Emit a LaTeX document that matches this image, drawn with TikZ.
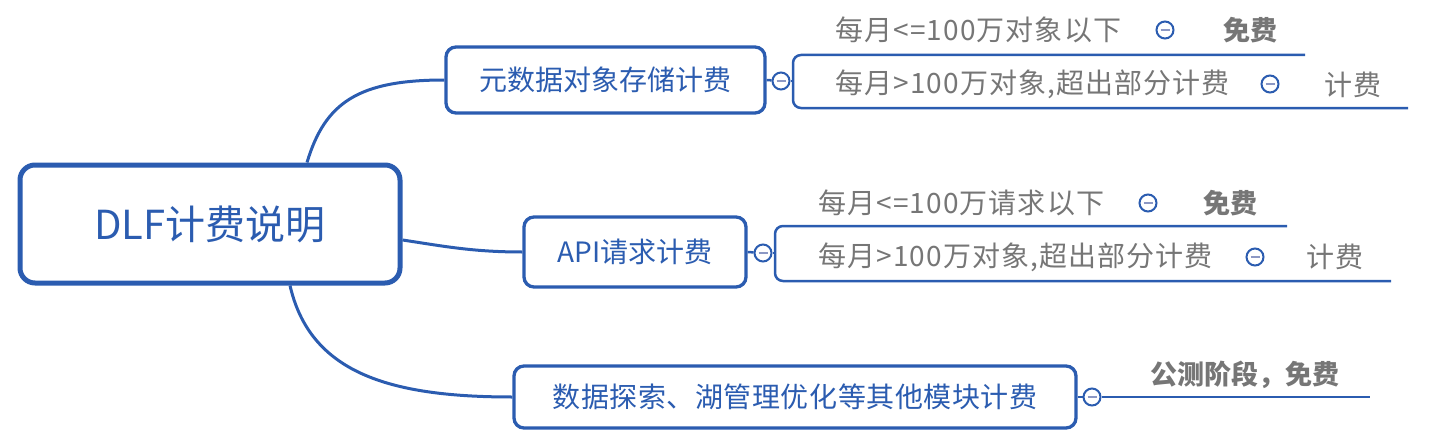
\documentclass[tikz,border=0pt]{standalone}
\usepackage{fontspec}
\setmainfont{Noto Sans CJK SC}
\definecolor{mblue}{RGB}{43,92,176}
\definecolor{tgray}{RGB}{118,118,118}
\definecolor{mgray}{RGB}{140,152,196}
\begin{document}
\begin{tikzpicture}[x=1pt,y=-1pt,
  rootbox/.style={draw=mblue, line width=5pt, rounded corners=15pt, fill=white, text=mblue,
    font=\fontsize{40}{48}\selectfont, inner sep=0pt, minimum width=380pt, minimum height=118pt},
  box/.style={draw=mblue, line width=3.3pt, rounded corners=10pt, fill=white, text=mblue,
    font=\fontsize{28}{34}\selectfont, inner sep=0pt},
  conn/.style={draw=mblue, line width=3pt},
  cl/.style={draw=mblue, line width=2.5pt},
  tog/.style={circle, draw=mblue, fill=white, line width=2pt, minimum size=17pt, inner sep=0pt,
    path picture={\draw[mgray, line width=1.8pt] ([xshift=-4.5pt]path picture bounding box.center) -- ([xshift=4.5pt]path picture bounding box.center);}},
  ct/.style={text=tgray, font=\fontsize{28}{32}\selectfont\addfontfeatures{LetterSpace=4}, inner sep=0pt},
  cb/.style={text=tgray, font=\fontsize{27}{32}\selectfont\bfseries, inner sep=0pt}
]
\useasboundingbox (0,0) rectangle (1434,444);

% main nodes
\node[rootbox] (c) at (210,224) {DLF计费说明};
\node[box, minimum width=319pt, minimum height=66pt] (n2) at (605.5,80) {元数据对象存储计费};
\node[box, minimum width=222pt, minimum height=70pt] (n3) at (635,252) {API请求计费};
\node[box, minimum width=562pt, minimum height=62pt, font=\fontsize{28}{34}\selectfont\addfontfeatures{LetterSpace=2}] (n4) at (795,397) {数据探索、湖管理优化等其他模块计费};

% main connectors
\draw[conn] ([xshift=97pt]c.north) .. controls +(18,-60) and +(-86,0) .. (n2.west);
\draw[conn] ([yshift=-16pt]c.east) .. controls +(40,6) and +(-50,0) .. (n3.west);
\draw[conn] ([xshift=80pt]c.south) .. controls +(20,87) and +(-124,0) .. (n4.west);

% toggles
\node[tog] (k2) at (781,81) {};
\node[tog] (k3) at (763,253) {};
\node[tog] (k4) at (1092,397) {};
\draw[cl] (n2.east) -- (k2);
\draw[cl] (n3.east) -- (k3);
\draw[cl] (n4.east) -- (k4);

% group 1
\coordinate (b2) at (793,81);
\coordinate (b2t) at (793,55);
\coordinate (b2b) at (793,108);
\coordinate (e21) at (1305,55);
\coordinate (e22) at (1408,108);
\draw[cl] (k2) -- (b2);
\draw[cl, rounded corners=8pt] (e21) -- (b2t) -- (b2b) -- (e22);
\node[ct, anchor=west] (t11) at (835,30) {每月<=100万对象以下};
\node[tog] (k11) at (1165,30) {};
\node[cb] (f11) at (1250,30) {免费};
\node[ct, anchor=west] (t12) at (835,84) {每月>100万对象,超出部分计费};
\node[tog] (k12) at (1270,84) {};
\node[ct] (f12) at (1353,85) {计费};

% group 2
\coordinate (b3) at (775,253);
\coordinate (b3t) at (775,226);
\coordinate (b3b) at (775,281);
\coordinate (e31) at (1287,226);
\coordinate (e32) at (1391,281);
\draw[cl] (k3) -- (b3);
\draw[cl, rounded corners=8pt] (e31) -- (b3t) -- (b3b) -- (e32);
\node[ct, anchor=west] (t21) at (818,203) {每月<=100万请求以下};
\node[tog] (k21) at (1148,203) {};
\node[cb] (f21) at (1230,203) {免费};
\node[ct, anchor=west] (t22) at (818,257) {每月>100万对象,超出部分计费};
\node[tog] (k22) at (1255,257) {};
\node[ct] (f22) at (1335,257) {计费};

% group 3
\coordinate (e4) at (1370,397);
\draw[cl] (k4) -- (e4);
\node[cb] (f4) at (1245,375) {公测阶段，免费};
\end{tikzpicture}
\end{document}
